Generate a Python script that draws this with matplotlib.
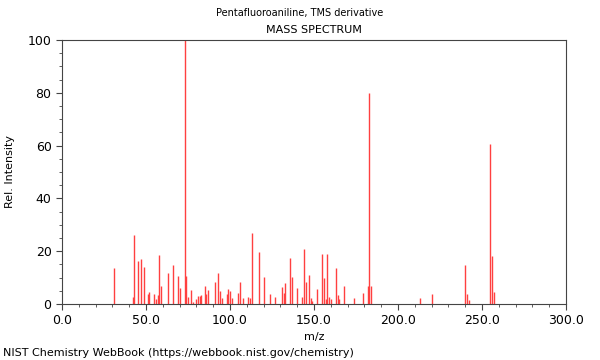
import matplotlib
matplotlib.use("Agg")
import matplotlib.pyplot as plt
from matplotlib.ticker import MultipleLocator

# peaks (m/z, relative intensity)
mz = [31, 42, 43, 45, 47, 49, 51, 52, 55, 56, 57, 58, 59, 63, 66, 69, 70,
      73, 74, 75, 77, 78, 80, 81, 82, 83, 85, 86, 87, 91, 93, 94, 95, 98,
      99, 100, 101, 105, 106, 108, 111, 112, 113, 117, 120, 124, 127, 131,
      132, 133, 136, 137, 140, 143, 144, 145, 147, 148, 149, 152, 155, 156,
      157, 158, 159, 160, 163, 164, 165, 168, 174, 179, 182, 183, 184, 213,
      220, 240, 241, 242, 255, 256, 257]
intensity = [13.5, 2.8, 26.1, 16.3, 17.0, 14.0, 3.7, 4.5, 3.7, 1.9, 3.3, 18.6,
             6.8, 11.6, 14.7, 10.6, 5.9, 100.0, 10.6, 2.8, 5.2, 0.9, 1.8, 3.0,
             3.0, 3.4, 6.9, 3.8, 5.3, 8.5, 11.7, 5.1, 2.3, 3.9, 5.7, 4.9, 2.1,
             4.2, 8.3, 2.3, 2.7, 2.3, 27.0, 19.7, 10.1, 3.8, 2.7, 6.6, 4.2, 7.9,
             17.5, 10.4, 6.1, 2.8, 20.8, 8.3, 10.9, 2.3, 1.3, 5.6, 18.9, 9.8,
             2.0, 18.9, 2.7, 2.0, 13.8, 3.4, 1.9, 6.9, 2.4, 4.3, 6.9, 80.0, 6.9,
             2.1, 3.7, 14.8, 3.8, 1.5, 60.7, 18.2, 4.7]

title = "Pentafluoroaniline, TMS derivative"
subtitle = "MASS SPECTRUM"
footer = "NIST Chemistry WebBook (https://webbook.nist.gov/chemistry)"

fig = plt.figure(figsize=(6, 3.6), dpi=100)
ax = fig.add_axes([62 / 600, 56 / 360, 504 / 600, 264 / 360])

ax.vlines(mz, 0, intensity, colors="#ff4040", linewidth=1.0)

ax.set_xlim(0, 300)
ax.set_ylim(0, 100)
ax.xaxis.set_major_locator(MultipleLocator(50))
ax.xaxis.set_minor_locator(MultipleLocator(10))
ax.yaxis.set_major_locator(MultipleLocator(20))
ax.yaxis.set_minor_locator(MultipleLocator(5))
ax.xaxis.set_major_formatter(matplotlib.ticker.FormatStrFormatter("%.1f"))
ax.tick_params(which="major", length=4, labelsize=9, color="#444444")
ax.tick_params(which="minor", length=2, color="#444444")
for s in ax.spines.values():
    s.set_color("#444444")

ax.set_xlabel("m/z", fontsize=8, labelpad=3)
ax.set_ylabel("Rel. Intensity", fontsize=8, labelpad=9)

fig.text(300 / 600, 1 - 13 / 360, title, ha="center", va="center", fontsize=7)
fig.text(314 / 600, 1 - 30 / 360, subtitle, ha="center", va="center", fontsize=8)
fig.text(3 / 600, 1 - 353 / 360, footer, ha="left", va="center", fontsize=8)

fig.savefig("out.png", dpi=100)
